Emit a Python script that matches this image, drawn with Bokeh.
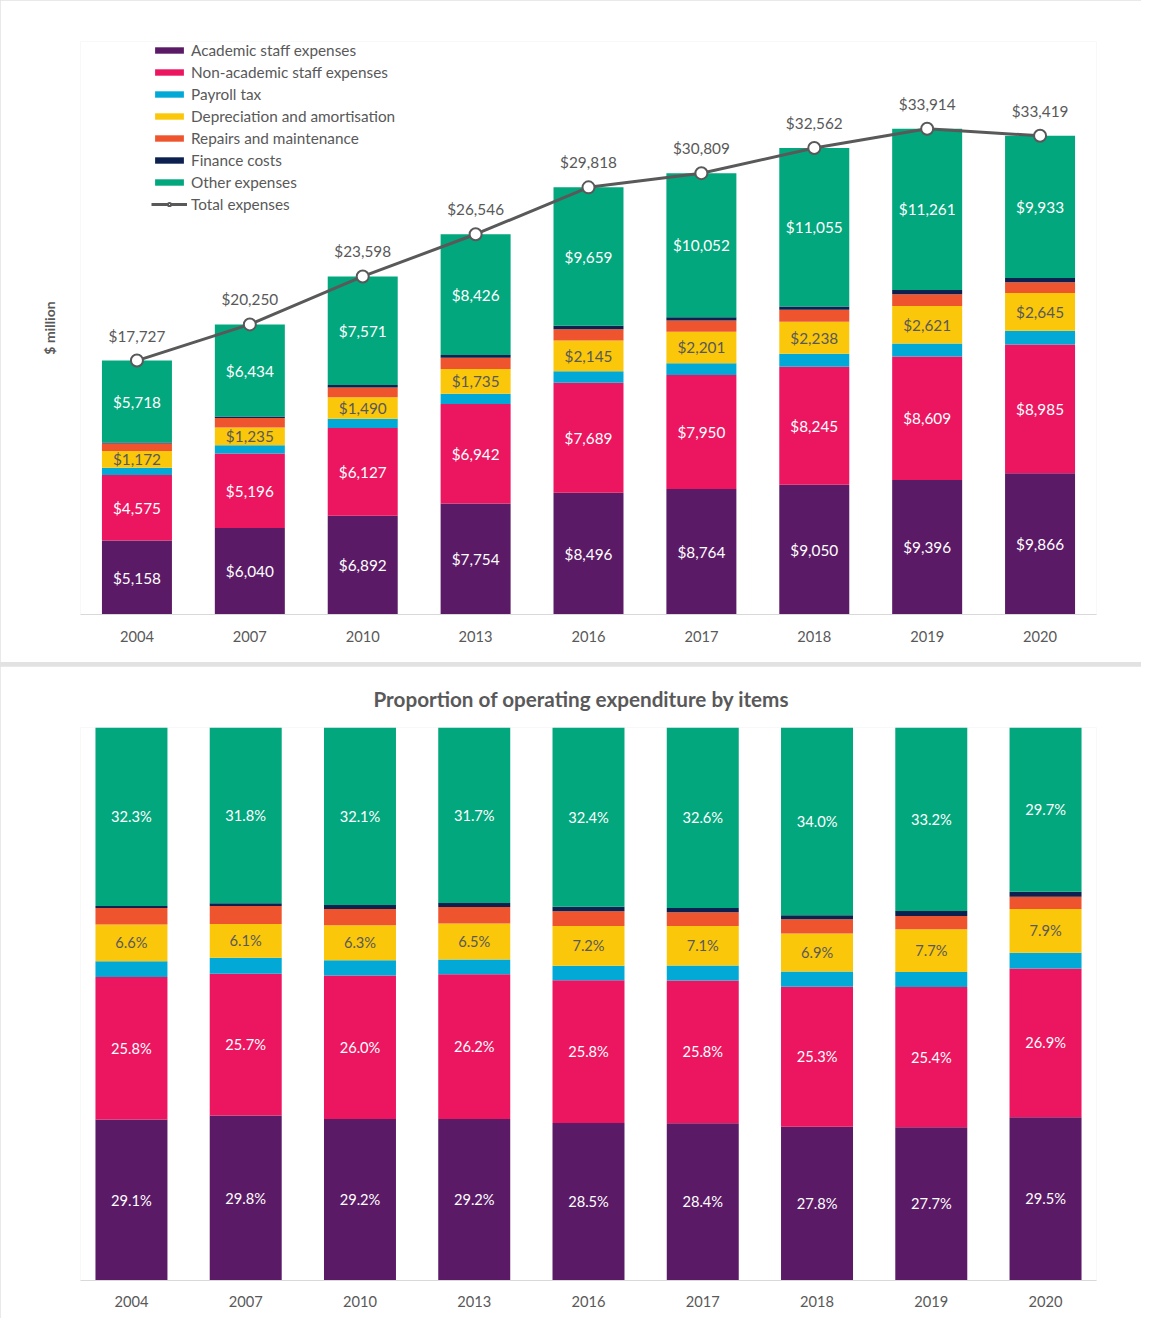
from bokeh.plotting import figure
from bokeh.models import ColumnDataSource, Range1d, FactorRange, Legend, LegendItem, FixedTicker
from bokeh.layouts import column
from bokeh.embed import file_html
from bokeh.resources import INLINE
from bokeh.core.properties import value

# ---------------- data ($ million) ----------------
years = ["2004", "2007", "2010", "2013", "2016", "2017", "2018", "2019", "2020"]
academic = [5158, 6040, 6892, 7754, 8496, 8764, 9050, 9396, 9866]
non_academic = [4575, 5196, 6127, 6942, 7689, 7950, 8245, 8609, 8985]
payroll_tax = [503, 586, 650, 710, 791, 830, 906, 913, 955]
depreciation = [1172, 1235, 1490, 1735, 2145, 2201, 2238, 2621, 2645]
repairs = [532, 661, 694, 790, 791, 774, 827, 809, 743]
finance = [69, 98, 174, 189, 247, 238, 241, 305, 292]
other = [5718, 6434, 7571, 8426, 9659, 10052, 11055, 11261, 9933]
totals = [17727, 20250, 23598, 26546, 29818, 30809, 32562, 33914, 33419]

series_names = ["Academic staff expenses", "Non-academic staff expenses", "Payroll tax",
                "Depreciation and amortisation", "Repairs and maintenance",
                "Finance costs", "Other expenses"]
series_vals = [academic, non_academic, payroll_tax, depreciation, repairs, finance, other]
colors = ["#5B1A66", "#EC1560", "#03A9D6", "#FBC70A", "#EE552F", "#0D2150", "#02A77D"]
label_colors = ["white", "white", None, "#595959", None, None, "white"]

FONT = "Lato"
GREY = "#595959"
keys = ["s%d" % i for i in range(len(series_vals))]

# ---------------- top chart ----------------
data1 = {"year": years, "total": totals}
for k, v in zip(keys, series_vals):
    data1[k] = v
src1 = ColumnDataSource(data1)

p1 = figure(width=1141, height=662, x_range=FactorRange(factors=years, range_padding=0),
            y_range=Range1d(0, 40000), output_backend="svg", toolbar_location=None,
            min_border_left=80, min_border_right=45, min_border_top=41, min_border_bottom=48)
p1.outline_line_color = None
p1.xgrid.visible = False
p1.ygrid.visible = False

bars1 = p1.vbar_stack(keys, x="year", width=0.62, color=colors, line_color=None, source=src1)
line_r = p1.line(x="year", y="total", line_color=GREY, line_width=3, source=src1)
dot_r = p1.scatter(x="year", y="total", marker="circle", size=12, fill_color="white",
                   line_color=GREY, line_width=2, source=src1)

# segment labels
for i, (vals, lc) in enumerate(zip(series_vals, label_colors)):
    if lc is None:
        continue
    ys = []
    for j in range(len(years)):
        base = sum(series_vals[m][j] for m in range(i))
        ys.append(base + vals[j] / 2.0)
    s = ColumnDataSource({"year": years, "y": ys, "t": ["${:,}".format(v) for v in vals]})
    p1.text(x="year", y="y", text="t", source=s, text_align="center", text_baseline="middle",
            text_color=lc, text_font=value(FONT), text_font_size="11.5pt")

tsrc = ColumnDataSource({"year": years, "y": totals, "t": ["${:,}".format(v) for v in totals]})
p1.text(x="year", y="y", text="t", source=tsrc, text_align="center", text_baseline="middle",
        y_offset=-25, text_color=GREY, text_font=value(FONT), text_font_size="11.5pt")

p1.yaxis.ticker = FixedTicker(ticks=[])
p1.yaxis.axis_label = "$ million"
p1.yaxis.axis_label_text_font = FONT
p1.yaxis.axis_label_text_font_style = "bold"
p1.yaxis.axis_label_text_font_size = "10.5pt"
p1.yaxis.axis_label_text_color = GREY
p1.yaxis.axis_label_standoff = 23
p1.yaxis.major_tick_line_color = None
p1.yaxis.minor_tick_line_color = None
p1.yaxis.axis_line_color = None

p1.xaxis.axis_line_color = "#d9d9d9"
p1.xaxis.major_tick_line_color = None
p1.xaxis.minor_tick_line_color = None
p1.xaxis.major_label_text_font = FONT
p1.xaxis.major_label_text_font_size = "11pt"
p1.xaxis.major_label_text_color = GREY
p1.xaxis.major_label_standoff = 10

items = [LegendItem(label=n, renderers=[r]) for n, r in zip(series_names, bars1)]
items.append(LegendItem(label="Total expenses", renderers=[line_r, dot_r]))
legend = Legend(items=items, location=(71, 400), glyph_width=36, glyph_height=8,
                label_height=20, spacing=2, padding=0, margin=0, border_line_color=None,
                background_fill_alpha=0, label_text_font=FONT, label_text_font_size="11.5pt",
                label_text_color=GREY, label_standoff=4)
p1.add_layout(legend)

# ---------------- bottom chart ----------------
data2 = {"year": years}
for k, v in zip(keys, series_vals):
    data2[k] = [a / t for a, t in zip(v, totals)]
src2 = ColumnDataSource(data2)

p2 = figure(width=1141, height=652,
            x_range=FactorRange(factors=years, range_padding=-0.054, range_padding_units="absolute"),
            y_range=Range1d(0, 1), output_backend="svg", toolbar_location=None,
            min_border_left=80, min_border_right=45, min_border_top=61, min_border_bottom=38,
            title="Proportion of operating expenditure by items")
p2.outline_line_color = None
p2.title.align = "left"
p2.title.offset = 293
p2.title.vertical_align = "top"
p2.title.text_font = FONT
p2.title.text_font_size = "15.5pt"
p2.title.text_font_style = "bold"
p2.title.text_color = GREY
p2.title.standoff = 30
p2.xgrid.visible = False
p2.ygrid.visible = False
p2.yaxis.visible = False

p2.vbar_stack(keys, x="year", width=0.63, color=colors, line_color=None, source=src2)

for i, lc in enumerate(label_colors):
    if lc is None:
        continue
    ys, ts = [], []
    for j in range(len(years)):
        base = sum(data2[keys[m]][j] for m in range(i))
        ys.append(base + data2[keys[i]][j] / 2.0)
        ts.append("{:.1f}%".format(data2[keys[i]][j] * 100))
    s = ColumnDataSource({"year": years, "y": ys, "t": ts})
    p2.text(x="year", y="y", text="t", source=s, text_align="center", text_baseline="middle",
            text_color=lc, text_font=value(FONT), text_font_size="11pt")

p2.xaxis.axis_line_color = "#d9d9d9"
p2.xaxis.major_tick_line_color = None
p2.xaxis.minor_tick_line_color = None
p2.xaxis.major_label_text_font = FONT
p2.xaxis.major_label_text_font_size = "11pt"
p2.xaxis.major_label_text_color = GREY
p2.xaxis.major_label_standoff = 9

layout = column(p1, p2, spacing=4, styles={"background-color": "#e2e2e2"})
open("out.html", "w").write(file_html(layout, INLINE))
